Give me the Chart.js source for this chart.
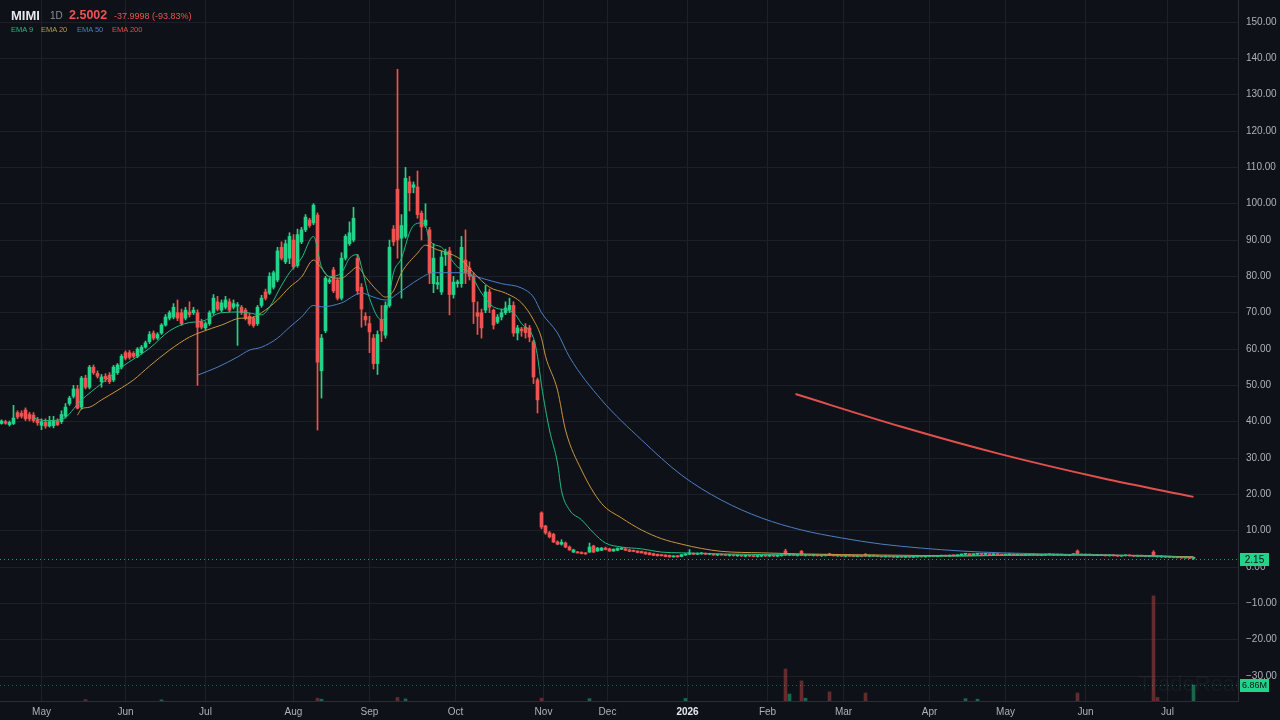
<!DOCTYPE html>
<html>
<head>
<meta charset="utf-8">
<title>MIMI 1D</title>
<script src="https://cdn.jsdelivr.net/npm/chart.js@4.4.1/dist/chart.umd.min.js"></script>
<style>
  html, body { margin: 0; padding: 0; background: #0f1118; }
  #wrap { position: relative; width: 1280px; height: 720px; overflow: hidden; }
  #hdr span { position: absolute; white-space: nowrap; font-family: "Liberation Sans", Arial, sans-serif; line-height: 1; }
  .sym { left: 11px; top: 9px; font-size: 13px; font-weight: bold; color: #e6e8ee; }
  .tf { left: 50px; top: 11px; font-size: 10px; color: #8a8e99; }
  .px { left: 69px; top: 9px; font-size: 12.5px; font-weight: bold; color: #f0524f; }
  .chg { left: 114px; top: 12px; font-size: 9px; color: #f0524f; }
  .ema { top: 26px; font-size: 7.5px; }
</style>
</head>
<body>
<div id="wrap">
  <canvas id="chart" width="1280" height="720"></canvas>
  <div id="hdr">
    <span class="sym">MIMI</span>
    <span class="tf">1D</span>
    <span class="px">2.5002</span>
    <span class="chg">-37.9998 (-93.83%)</span>
    <span class="ema" style="left:11px;color:#1fbf7f">EMA 9</span>
    <span class="ema" style="left:41px;color:#c8963e">EMA 20</span>
    <span class="ema" style="left:77px;color:#4b7fc4">EMA 50</span>
    <span class="ema" style="left:112px;color:#d9534f">EMA 200</span>
  </div>
</div>
<script>
(function () {
  'use strict';

  // ── Data: daily candles [open, high, low, close], one per trading day ──
  const ohlc = [
    // May 2025 (late Apr start)
    [39.5,40.5,39.3,40.2],[40.0,40.4,39.3,39.6],[39.2,40.2,38.8,39.8],[39.5,44.5,39.2,41.0],[42.5,43.0,40.8,41.3],
    [42.3,43.0,41.0,41.5],[43.2,43.8,40.3,40.8],[42.0,42.6,40.2,40.8],[41.8,42.5,39.8,40.3],[40.5,41.2,39.0,39.7],
    [39.0,40.8,37.8,40.0],[39.9,40.8,38.2,38.8],[38.8,41.5,38.5,40.0],[38.9,41.5,38.3,40.1],[40.2,40.8,38.9,39.2],
    [40.0,43.0,39.5,42.0],[41.5,45.0,41.0,44.0],[45.0,47.0,44.5,46.5],[47.0,50.0,46.5,49.0],[49.0,50.0,43.5,43.7],
    [44.0,52.5,43.5,52.0],[52.0,52.8,49.0,49.5],[49.5,55.5,49.0,55.0],[55.0,55.6,53.0,53.5],[53.3,54.0,52.0,52.5],
    [51.0,53.0,49.5,52.3],[52.5,53.2,51.0,51.8],[52.8,53.5,50.5,51.0],[51.5,55.5,51.0,55.0],[53.5,56.0,53.0,55.6],
    // Jun
    [55.0,58.5,54.5,58.0],[59.0,59.5,57.0,57.5],[59.0,59.6,57.2,57.7],[58.8,59.3,57.6,58.0],[58.0,60.4,57.6,60.0],
    [59.0,61.0,58.6,60.5],[60.5,62.2,60.2,61.7],[62.0,64.8,61.5,64.0],[64.4,65.0,62.5,63.0],[63.0,64.5,62.6,64.0],
    [64.4,67.0,64.0,66.6],[66.6,69.5,66.3,68.8],[68.5,70.5,68.0,70.0],[68.8,72.5,68.3,71.5],[70.0,73.5,67.8,68.5],
    [70.0,71.0,66.5,67.0],[68.5,71.5,68.0,70.7],[70.2,73.0,68.8,69.5],[70.0,71.5,69.5,70.7],[70.0,70.8,50.0,66.0],
    // Jul
    [67.4,68.2,65.5,66.0],[65.8,67.5,65.3,67.0],[67.0,70.5,66.5,70.0],[70.0,75.0,69.5,74.0],[73.0,74.5,70.5,71.0],
    [70.7,73.5,70.2,72.7],[71.5,74.5,71.0,73.5],[73.0,73.8,70.2,70.7],[71.5,73.5,71.0,72.5],[71.8,72.8,61.0,72.2],
    [71.5,72.0,69.5,70.0],[70.7,71.2,68.0,68.5],[69.0,69.8,66.5,67.0],[68.5,69.0,66.0,66.5],[67.0,72.0,66.5,71.5],
    [72.0,74.8,71.5,74.0],[75.7,76.5,73.5,74.0],[75.4,81.0,75.0,80.0],[77.0,81.5,76.5,81.0],[79.0,88.0,78.5,87.0],
    [88.0,89.5,84.5,85.0],[84.0,90.0,83.5,89.0],
    // Aug
    [85.0,92.0,83.5,91.0],[90.0,91.5,82.0,82.6],[83.0,93.0,82.5,91.5],[89.5,93.5,89.0,92.8],[92.8,97.0,92.3,96.3],
    [95.5,96.0,93.5,94.0],[94.7,100.0,94.2,99.6],[96.9,97.5,37.7,56.4],[54.0,64.0,46.5,63.0],[65.0,80.0,64.5,79.5],
    [78.5,79.5,78.0,79.0],[81.8,82.5,75.5,76.0],[79.0,79.5,73.5,74.0],[74.0,86.5,73.5,85.0],[85.0,91.5,84.5,91.0],
    [89.0,95.0,88.5,92.0],[90.0,99.0,89.5,96.0],[85.0,86.0,75.0,76.0],[77.0,78.0,66.0,71.0],[69.0,70.0,66.5,68.0],
    // Sep
    [67.0,69.0,59.0,64.7],[63.0,64.0,54.5,56.0],[56.0,65.0,53.0,64.0],[68.0,72.0,62.0,65.0],[63.8,73.0,63.0,72.0],
    [72.0,90.0,71.5,88.0],[93.0,94.0,88.5,89.5],[104.0,137.0,85.0,90.0],[90.5,97.0,74.0,94.0],[91.0,110.0,90.5,107.0],
    [106.0,107.5,98.0,103.0],[104.5,106.0,103.0,105.2],[104.6,109.0,96.0,97.0],[97.4,98.0,90.0,93.6],[94.0,100.0,93.5,95.5],
    [92.8,93.5,78.0,81.0],[78.0,89.0,75.5,85.0],[77.8,80.0,76.5,78.3],[75.7,87.0,75.0,85.3],[86.0,87.5,83.0,86.7],
    [87.0,88.0,69.4,75.0],
    // Oct
    [75.0,80.0,74.0,78.4],[78.0,79.0,77.0,78.5],[78.0,91.0,77.0,88.0],[84.5,92.8,78.0,81.0],[82.3,84.0,79.0,80.0],
    [80.0,81.0,67.0,73.0],[70.0,73.0,64.0,69.0],[70.0,71.0,63.0,65.8],[70.7,77.5,70.0,75.7],[75.7,76.5,70.0,71.5],
    [70.7,71.0,65.5,66.6],[67.4,69.5,67.0,68.8],[68.8,71.0,68.0,70.0],[70.0,73.0,69.5,71.3],[70.7,74.0,70.0,72.0],
    [72.0,73.0,63.5,64.4],[64.4,66.5,62.5,65.8],[65.5,66.0,63.5,65.0],[66.0,67.0,63.0,64.5],[65.8,66.5,62.0,63.3],
    [62.0,62.5,50.5,52.3],[51.5,52.0,42.4,46.0],
    // Nov
    [14.9,15.2,10.5,11.0],[11.3,11.5,9.0,9.4],[9.4,9.8,8.0,8.3],[9.0,9.3,6.7,6.9],[6.9,7.2,6.1,6.3],
    [6.3,7.5,6.0,6.8],[6.6,6.9,5.3,5.5],[5.5,5.8,4.6,4.7],[4.1,4.9,4.0,4.7],[4.1,4.3,3.8,3.9],
    [4.0,4.2,3.6,3.7],[3.8,4.0,3.5,3.6],[4.1,6.6,4.0,5.5],[5.8,6.0,4.0,4.1],[4.4,5.4,4.3,5.2],
    [4.6,5.4,4.5,5.2],
    // Dec
    [5.2,5.5,4.7,4.8],[5.0,5.2,4.3,4.4],[4.4,5.0,4.3,4.9],[4.6,5.3,4.5,5.1],[4.9,5.4,4.8,5.2],
    [5.0,5.2,4.5,4.6],[4.7,4.9,4.2,4.3],[4.6,4.7,4.2,4.3],[4.4,4.5,3.9,4.0],[4.3,4.4,3.8,3.9],
    [4.1,4.2,3.5,3.6],[3.9,4.0,3.3,3.4],[3.7,3.8,3.1,3.2],[3.5,3.6,3.0,3.1],[3.4,3.5,3.0,3.1],
    [3.3,3.4,2.8,2.9],[3.2,3.3,2.7,2.8],[2.8,3.1,2.7,3.0],[3.1,3.2,2.7,2.8],[2.9,3.5,2.8,3.4],
    // Jan 2026
    [3.3,3.7,3.2,3.6],[3.5,4.8,3.4,3.9],[3.8,3.9,3.4,3.5],[3.5,3.9,3.4,3.8],[3.6,4.0,3.5,3.9],
    [3.8,3.9,3.4,3.5],[3.5,3.8,3.4,3.7],[3.6,3.7,3.2,3.3],[3.3,3.5,3.1,3.4],[3.4,3.6,3.2,3.3],
    [3.3,3.5,3.1,3.2],[3.2,3.4,3.0,3.3],[3.3,3.4,3.0,3.1],[3.1,3.3,2.9,3.2],[3.2,3.3,2.9,3.0],
    [3.0,3.2,2.8,3.1],[3.1,3.2,2.9,3.0],[3.0,3.1,2.8,2.9],[2.9,3.1,2.7,3.0],[3.0,3.2,2.8,3.1],
    // Feb
    [3.1,3.2,2.9,3.0],[3.0,3.3,2.9,3.2],[3.2,3.3,2.9,3.0],[3.0,3.2,2.8,3.1],[3.1,3.4,3.0,3.3],
    [4.4,4.9,3.1,3.3],[3.3,3.6,3.1,3.5],[3.5,3.6,3.1,3.2],[3.2,3.4,3.0,3.3],[4.3,4.6,3.1,3.2],
    [3.2,3.5,3.0,3.4],[3.4,3.5,3.1,3.2],[3.2,3.4,3.0,3.3],[3.3,3.4,3.0,3.1],[3.1,3.3,2.9,3.2],
    [3.2,3.4,3.0,3.3],[3.6,3.8,3.1,3.2],[3.2,3.3,3.0,3.1],[3.1,3.3,2.9,3.2],
    // Mar
    [3.2,3.3,2.9,3.0],[3.0,3.2,2.8,3.1],[3.1,3.2,2.9,3.0],[3.0,3.1,2.8,2.9],[2.9,3.1,2.8,3.0],
    [3.0,3.1,2.8,2.9],[3.5,3.7,2.9,3.0],[3.0,3.2,2.8,3.1],[3.1,3.2,2.9,3.0],[3.0,3.1,2.8,2.9],
    [2.9,3.0,2.7,2.8],[2.8,3.0,2.7,2.9],[2.9,3.0,2.7,2.8],[2.8,2.9,2.6,2.7],[2.7,2.9,2.6,2.8],
    [2.8,2.9,2.6,2.7],[2.7,2.8,2.6,2.8],[2.8,2.9,2.6,2.7],[2.7,2.9,2.6,2.8],[2.8,2.9,2.7,2.9],
    [2.9,3.0,2.7,2.8],[2.8,3.0,2.7,2.9],
    // Apr
    [2.9,3.1,2.8,3.0],[3.0,3.1,2.8,2.9],[2.9,3.1,2.8,3.0],[3.0,3.2,2.9,3.1],[3.1,3.2,2.9,3.0],
    [3.0,3.3,2.9,3.2],[3.2,3.3,3.0,3.1],[3.1,3.4,3.0,3.3],[3.3,3.6,3.2,3.5],[3.5,3.7,3.3,3.6],
    [3.6,3.7,3.3,3.4],[3.4,3.6,3.3,3.5],[3.5,3.8,3.4,3.7],[3.7,3.8,3.4,3.5],[3.5,3.7,3.4,3.6],
    [3.6,3.7,3.3,3.4],[3.4,3.6,3.3,3.5],[3.5,3.7,3.3,3.4],[3.4,3.5,3.2,3.3],
    // May
    [3.3,3.5,3.2,3.4],[3.4,3.6,3.3,3.5],[3.5,3.6,3.2,3.3],[3.3,3.5,3.2,3.4],[3.4,3.5,3.1,3.2],
    [3.2,3.4,3.1,3.3],[3.3,3.5,3.2,3.4],[3.4,3.5,3.2,3.3],[3.3,3.4,3.1,3.2],[3.2,3.4,3.1,3.3],
    [3.3,3.5,3.2,3.4],[3.4,3.6,3.3,3.5],[3.5,3.6,3.2,3.3],[3.3,3.5,3.2,3.4],[3.4,3.5,3.2,3.3],
    [3.3,3.4,3.1,3.2],[3.2,3.5,3.1,3.4],[3.4,3.6,3.3,3.5],[4.4,4.7,3.3,3.4],[3.4,3.6,3.2,3.3],
    // Jun
    [3.3,3.5,3.1,3.4],[3.4,3.5,3.2,3.3],[3.3,3.4,3.1,3.2],[3.2,3.4,3.1,3.3],[3.3,3.4,3.1,3.2],
    [3.2,3.3,3.0,3.1],[3.1,3.3,3.0,3.2],[3.2,3.3,3.0,3.1],[3.1,3.2,2.9,3.0],[3.0,3.2,2.9,3.1],
    [3.1,3.3,3.0,3.2],[3.2,3.3,3.0,3.1],[3.1,3.2,2.9,3.0],[3.0,3.2,2.9,3.1],[3.1,3.2,2.9,3.0],
    [3.0,3.1,2.8,2.9],[2.9,3.1,2.8,3.0],[4.1,4.5,2.8,2.9],[2.9,3.1,2.7,2.8],[2.8,3.0,2.6,2.9],
    // Jul
    [2.9,3.0,2.6,2.7],[2.7,2.9,2.6,2.8],[2.8,2.9,2.5,2.6],[2.6,2.8,2.5,2.7],[2.7,2.8,2.4,2.5],
    [2.5,2.7,2.4,2.6],[2.6,2.7,2.3,2.4],[2.4,2.7,2.1,2.5]
  ];

  // ── Volume (millions), only bars that show up in the pane ──
  const volIdx = [21, 40, 79, 80, 99, 101, 135, 147, 171, 196, 197, 200, 201, 207, 216, 241, 244, 269, 288, 289, 298];
  const volVal = [0.6, 0.5, 1.2, 0.8, 1.5, 0.9, 1.2, 1.0, 1.1, 13.7, 3.0, 8.6, 1.2, 3.9, 3.4, 1.0, 0.8, 3.4, 45.0, 1.5, 6.86];

  // ── EMA values: [bar index, value] ──
  const ema9 = [
    [8,41.0],[11,40.3],[15,40.6],[20,46],[25,50.5],[30,55],[37,60.2],[42,65],[47,67.3],[50,67.6],
    [55,70],[60,70.2],[65,69.4],[67,71.5],[70,77.5],[72,81],[75,85],[78,91],[80,82.6],[82,80],
    [85,81],[87,85],[89,86],[90,82.6],[92,74],[95,68],[96,69],[97,75],[98,81],[100,85],
    [102,92],[103,94],[105,94.7],[106,94],[107,90],[110,88],[114,82.6],[117,81],[120,75.4],[123,71.6],
    [128,70],[130,67],[133,63],[134,58],[135,50],[137,37.7],[139,28.6],[140,21],[142,15.7],[145,13],
    [148,9.4],[151,6.6],[155,5.5],[160,5.0],[165,4.1],[170,3.9],[180,3.6],[200,3.3],[220,3.0],[240,3.0],
    [260,3.4],[280,3.2],[298,2.6]
  ];
  const ema20 = [
    [19,41.8],[20,43.5],[22,44],[25,46],[27,47.3],[30,49.3],[33,51.5],[37,55.3],[42,59.7],[47,63.3],
    [50,64.7],[55,66.6],[60,68.5],[62,68.5],[65,70],[69,73.5],[72,77],[75,79.8],[78,84.5],[80,82.3],
    [82,79.8],[85,79.5],[87,81],[89,82.6],[91,79.8],[94,76],[96,74.3],[98,76],[100,81],[104,86.4],
    [106,88.6],[109,87.3],[111,86.7],[115,84.5],[118,81],[122,77],[126,75.4],[130,72.7],[133,68],[135,63],
    [136,58],[139,48.7],[141,37.7],[145,26.7],[150,17.5],[155,13.5],[160,10.2],[165,7.8],[170,6.3],[175,5.1],
    [180,4.3],[190,3.9],[200,3.6],[220,3.3],[240,3.1],[260,3.3],[280,3.2],[298,2.8]
  ];
  const ema50 = [
    [49,52.8],[54,55],[59,57.8],[62,59.7],[65,60.5],[69,63],[72,66],[75,68.8],[78,72],[80,71.6],
    [85,72.7],[90,75.4],[93,74.3],[96,73.5],[100,76],[104,79],[108,81],[115,81],[120,79.5],[125,78],
    [130,76.8],[133,74.3],[135,70],[139,64.4],[142,57.8],[150,46],[160,35],[170,25.3],[180,18.4],[190,13.5],
    [200,10.2],[210,8],[220,6.3],[230,5.2],[240,4.4],[250,3.9],[275,3.3],[298,2.8]
  ];
  const ema200 = [[198.5,47.6],[225,38.6],[250,31.0],[275,24.5],[298,19.3]];

  // ── Axis ticks ──
  const monthTicks = [10, 31, 51, 73, 92, 113.5, 135.5, 151.5, 171.5, 191.5, 210.5, 232, 251, 271, 291.5];
  const monthLabels = ['May', 'Jun', 'Jul', 'Aug', 'Sep', 'Oct', 'Nov', 'Dec', '2026', 'Feb', 'Mar', 'Apr', 'May', 'Jun', 'Jul'];
  const priceTicks = [-30, -20, -10, 0, 10, 20, 30, 40, 50, 60, 70, 80, 90, 100, 110, 120, 130, 140, 150];

  const lastPrice = 2.15;
  const lastVolume = 6.86;

  // ── Style ──
  const BG = '#0f1118';
  const GRID = '#1d2029';
  const BORDER = '#2a2e39';
  const UP = '#22d38a';
  const DOWN = '#ef5350';
  const TEXT = '#aeb1ba';
  const FONT = '"Liberation Sans", Arial, sans-serif';

  const isUp = b => b[3] >= b[0];
  const candleColors = ohlc.map(b => isUp(b) ? UP : DOWN);
  const volColors = volIdx.map(i => isUp(ohlc[i]) ? 'rgba(34,211,138,0.45)' : 'rgba(239,83,80,0.38)');
  const toPts = arr => arr.map(p => ({ x: p[0], y: p[1] }));

  const emaLine = (data, color, width) => ({
    type: 'line',
    data: toPts(data),
    borderColor: color,
    borderWidth: width,
    pointRadius: 0,
    cubicInterpolationMode: 'monotone',
    order: 1
  });

  // ── Plugins ──
  const background = {
    id: 'background',
    beforeDraw(chart) {
      const c = chart.ctx;
      c.save();
      c.fillStyle = BG;
      c.fillRect(0, 0, chart.width, chart.height);
      c.restore();
    }
  };

  const overlays = {
    id: 'overlays',
    afterDraw(chart) {
      const c = chart.ctx;
      const a = chart.chartArea;
      const py = chart.scales.y.getPixelForValue(lastPrice);
      const vy = chart.scales.yVol.getPixelForValue(lastVolume);

      c.save();
      // watermark
      c.beginPath();
      c.rect(a.left, a.top, a.right - a.left, a.bottom - a.top);
      c.clip();
      c.font = '22px ' + FONT;
      c.fillStyle = 'rgba(255,255,255,0.035)';
      c.textBaseline = 'alphabetic';
      c.fillText('TradeReady', 1138, 691);
      // dotted last-value lines
      c.setLineDash([1, 3]);
      c.lineWidth = 1;
      c.strokeStyle = 'rgba(34,211,138,0.75)';
      c.beginPath();
      c.moveTo(a.left, Math.round(py) + 0.5);
      c.lineTo(a.right, Math.round(py) + 0.5);
      c.stroke();
      c.strokeStyle = 'rgba(34,211,138,0.45)';
      c.beginPath();
      c.moveTo(a.left, Math.round(vy) + 0.5);
      c.lineTo(a.right, Math.round(vy) + 0.5);
      c.stroke();
      c.restore();

      // axis value labels
      c.save();
      c.textAlign = 'center';
      c.textBaseline = 'middle';
      [[py, lastPrice.toFixed(2), 10], [vy, lastVolume.toFixed(2) + 'M', 9]].forEach(([y, txt, size]) => {
        c.font = size + 'px ' + FONT;
        c.fillStyle = UP;
        c.fillRect(a.right + 2, Math.round(y) - 6, 29, 13);
        c.fillStyle = '#0f1118';
        c.fillText(txt, a.right + 16.5, Math.round(y) + 1);
      });
      c.restore();
    }
  };

  // ── Chart ──
  new Chart(document.getElementById('chart'), {
    data: {
      datasets: [
        emaLine(ema9, '#1fbf7f', 1),
        emaLine(ema20, '#c8963e', 1),
        emaLine(ema50, '#4b7fc4', 1),
        emaLine(ema200, '#e0514c', 2),
        {
          type: 'bar',
          data: ohlc.map((b, i) => ({ x: i, y: [b[0], b[3]] })),
          backgroundColor: candleColors,
          barThickness: 3,
          minBarLength: 1,
          grouped: false,
          order: 2
        },
        {
          type: 'bar',
          data: ohlc.map((b, i) => ({ x: i, y: [b[2], b[1]] })),
          backgroundColor: candleColors,
          barThickness: 1,
          grouped: false,
          order: 3
        },
        {
          type: 'bar',
          yAxisID: 'yVol',
          data: volIdx.map((i, k) => ({ x: i, y: volVal[k] })),
          backgroundColor: volColors,
          barThickness: 3,
          grouped: false,
          order: 10
        }
      ]
    },
    options: {
      responsive: false,
      animation: false,
      devicePixelRatio: 1,
      layout: { padding: 0 },
      plugins: { legend: { display: false }, tooltip: { enabled: false } },
      scales: {
        x: {
          type: 'linear',
          min: -0.375,
          max: 309.125,
          offset: false,
          grid: { color: GRID, drawTicks: false, offset: false },
          border: { color: BORDER },
          afterBuildTicks: s => { s.ticks = monthTicks.map(v => ({ value: v })); },
          afterFit: s => { s.height = 19; s.paddingLeft = 0; s.paddingRight = 0; },
          ticks: {
            autoSkip: false,
            maxRotation: 0,
            padding: 5,
            color: ctx => ctx.index === 8 ? '#e6e8ee' : TEXT,
            font: ctx => ({ family: FONT, size: 10, weight: ctx.index === 8 ? 'bold' : 'normal' }),
            callback: (v, i) => monthLabels[i]
          }
        },
        y: {
          position: 'right',
          min: -36.88,
          max: 156.07,
          grid: { color: GRID, drawTicks: false },
          border: { color: BORDER },
          afterBuildTicks: s => { s.ticks = priceTicks.map(v => ({ value: v })); },
          afterFit: s => { s.width = 42; s.paddingTop = 0; s.paddingBottom = 0; },
          ticks: {
            padding: 8,
            color: TEXT,
            font: { family: FONT, size: 10 },
            callback: v => (v < 0 ? '\u2212' : '') + Math.abs(v).toFixed(2)
          }
        },
        yVol: {
          display: false,
          min: 0,
          max: 300
        }
      }
    },
    plugins: [background, overlays]
  });
})();
</script>
</body>
</html>
